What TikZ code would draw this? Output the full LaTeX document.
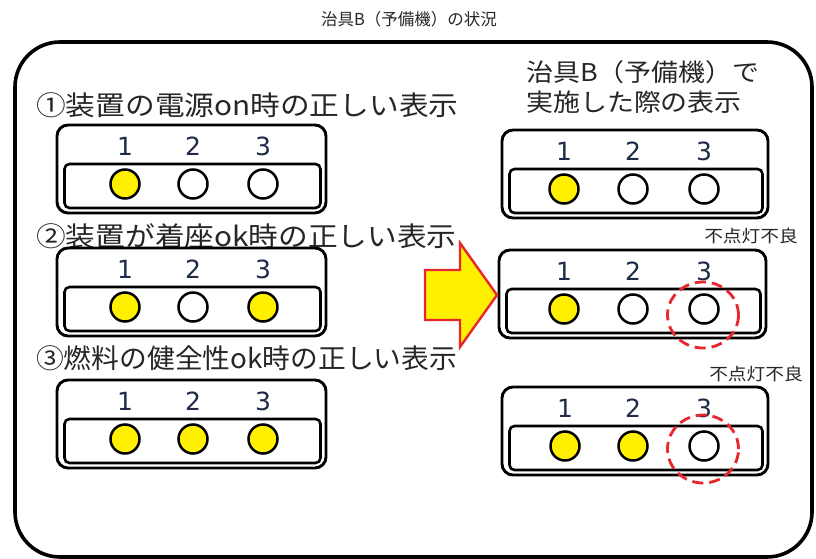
\documentclass[tikz,border=0pt]{standalone}
\usepackage{fontspec}
\usepackage{graphicx}
\usetikzlibrary{shapes.geometric}
\setmainfont{Noto Sans CJK JP}
\newfontfamily\jpwide[FakeStretch=1.1]{Noto Sans CJK JP}
\newfontfamily\numfont{DejaVu Sans}
\definecolor{txtgray}{HTML}{262626}
\definecolor{numblue}{HTML}{1F2A48}
\definecolor{lampyellow}{RGB}{255,240,0}
\definecolor{faultred}{HTML}{E8262E}
\tikzset{
  frame/.style={draw=black, line width=3.6, rounded corners=45},
  panelouter/.style={draw=black, line width=2.9, rounded corners=11, rectangle, inner sep=0},
  panelinner/.style={draw=black, line width=2.6, rounded corners=5, rectangle, inner sep=0},
  lamp/.style={circle, draw=black, line width=2.5, minimum size=29, inner sep=0},
  numlabel/.style={font=\numfont\fontsize{25}{25}\selectfont, text=numblue, inner sep=0},
  bigtext/.style={font=\jpwide\fontsize{27}{27}\selectfont, text=txtgray, inner sep=0, anchor=west},
  hdtext/.style={font=\jpwide\fontsize{24.5}{24.5}\selectfont, text=txtgray, inner sep=0, anchor=west},
  titletext/.style={font=\fontsize{16.5}{16.5}\selectfont, text=txtgray, inner sep=0},
  faultlabel/.style={font=\jpwide\fontsize{17}{17}\selectfont, text=txtgray, inner sep=0},
  faultring/.style={ellipse, draw=faultred, line width=2.8, dash pattern=on 11 off 6, inner sep=0},
  bigarrow/.style={fill=lampyellow, draw=faultred, line width=2.4, line join=miter},
}
% #1 name, #2 left x, #3 right x, #4 top y, #5 list k/x/colour
\newcommand{\lamppanel}[5]{%
  \node[panelouter, minimum width={#3-#2}, minimum height=88] (#1) at ({(#2+#3)/2},{#4+44}) {};
  \node[panelinner, minimum width={#3-#2-13}, minimum height=44] (#1in) at ({(#2+#3)/2+1},{#4+61}) {};
  \foreach \k/\xx/\cc in {#5} {
    \node[numlabel] (#1n\k) at (\xx,{#4+21}) {\k};
    \node[lamp, fill=\cc] (#1l\k) at (\xx,{#4+59}) {};
  }%
}
\begin{document}
\begin{tikzpicture}[x=1pt,y=-1pt]
\useasboundingbox (0,0) rectangle (816,559);
\fill[white] (0,0) rectangle (816,559);
\node[titletext] (title) at (409,19) {治具B（予備機）の状況};
\draw[frame] (15,42) rectangle (812,557);

\node[bigtext] (t1) at (36,105) {①装置の電源on時の正しい表示};
\node[bigtext] (t2) at (36,236) {②装置が着座ok時の正しい表示};
\node[bigtext] (t3) at (36,358) {\scalebox{0.935}[1]{③燃料の健全性ok時の正しい表示}};

\node[hdtext] (h1) at (526,72) {治具B（予備機）で};
\node[hdtext] (h2) at (526,102) {実施した際の表示};

\lamppanel{L1}{57}{326}{125}{1/125/lampyellow,2/193/white,3/263/white}
\lamppanel{L2}{57}{326}{248}{1/125/lampyellow,2/193/white,3/263/lampyellow}
\lamppanel{L3}{57}{326}{380}{1/125/lampyellow,2/193/lampyellow,3/263/lampyellow}

\lamppanel{R1}{502}{768}{130}{1/564/lampyellow,2/633/white,3/704/white}
\lamppanel{R2}{499}{766}{250}{1/564/lampyellow,2/633/white,3/704/white}
\lamppanel{R3}{502}{768}{387}{1/565/lampyellow,2/633/lampyellow,3/704/white}

\node[faultlabel] (f2) at (751,236) {不点灯不良};
\node[faultlabel] (f3) at (756,374) {不点灯不良};
\node[faultring, minimum width=71, minimum height=66] (ring2) at (703,315) {};
\node[faultring, minimum width=71, minimum height=68] (ring3) at (703,449) {};

\draw[bigarrow] (425,270) -- (460,270) -- (460,243) -- (497,295) -- (460,347) -- (460,320) -- (425,320) -- cycle;
\end{tikzpicture}
\end{document}
